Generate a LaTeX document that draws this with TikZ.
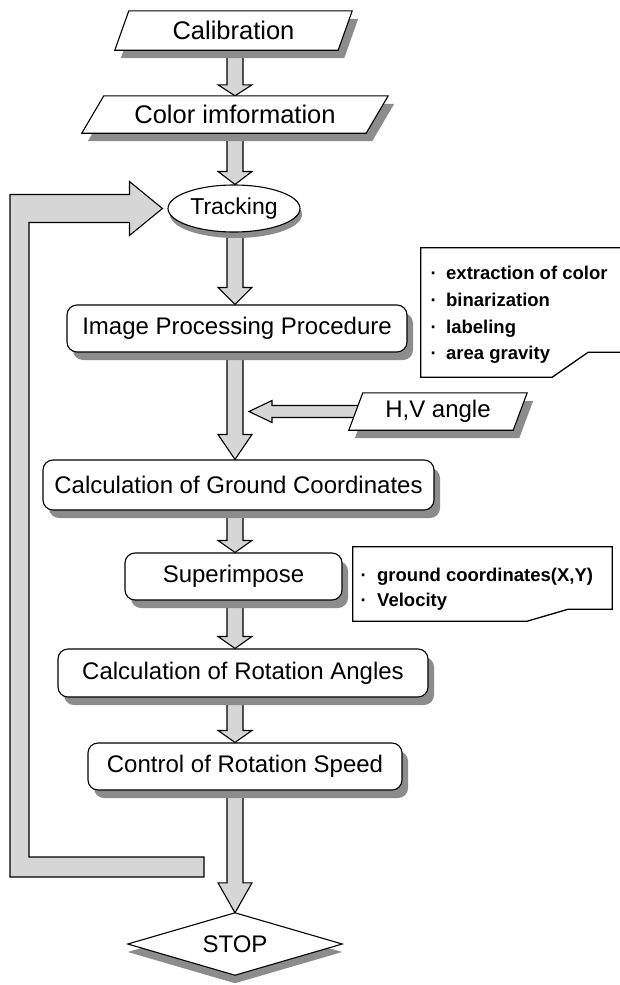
\documentclass[tikz,border=0pt]{standalone}
\usepackage{fontspec}
\setmainfont{Liberation Sans}
\usetikzlibrary{shadows,calc,shapes.geometric}
\pgfdeclarelayer{bg}
\pgfdeclarelayer{mid}
\pgfsetlayers{bg,mid,main}
\definecolor{shgray}{RGB}{140,140,140}
\definecolor{arrfill}{RGB}{214,214,214}
\tikzset{
  rbox/.style={draw=black, line width=1.1pt, fill=white, rounded corners=10pt, inner sep=0pt,
    font=\fontsize{24}{28}\selectfont,
    drop shadow={shadow xshift=6pt, shadow yshift=-8pt, fill=shgray, opacity=1}},
  holder/.style={inner sep=0pt, draw=none},
  pshape/.style={draw=black, line width=1.1pt, fill=white, line join=miter},
  pshadow/.style={fill=shgray, draw=none},
  barrow/.style={draw=black, line width=1.1pt, fill=arrfill, line join=miter},
  notebox/.style={draw=black, line width=1.3pt, fill=white, line join=miter},
  notetext/.style={anchor=base west, inner sep=0pt, font=\fontsize{18.5}{22}\bfseries\selectfont},
}
% parallelogram drawn from a holder node: #1 name, #2 slant
\newcommand{\paral}[2]{%
  \fill[pshadow] ([xshift=#2pt+6pt,yshift=-8pt]#1.north west) -- ([xshift=6pt,yshift=-8pt]#1.north east)
    -- ([xshift=-#2pt+6pt,yshift=-8pt]#1.south east) -- ([xshift=6pt,yshift=-8pt]#1.south west) -- cycle;
  \draw[pshape] ([xshift=#2pt]#1.north west) -- (#1.north east)
    -- ([xshift=-#2pt]#1.south east) -- (#1.south west) -- cycle;}
% vertical block arrow in the main column: #1 from, #2 to, #3 head length
\newcommand{\flowarrow}[3]{%
  \path[barrow] let \p1=(#1.center), \p2=(#2.north) in
    (235pt,\y2) -- (218pt,{\y2+#3pt}) -- (227pt,{\y2+#3pt}) -- (227pt,\y1)
    -- (243pt,\y1) -- (243pt,{\y2+#3pt}) -- (252pt,{\y2+#3pt}) -- cycle;}
\begin{document}
\begin{tikzpicture}[x=1pt,y=-1pt]
\useasboundingbox (0,0) rectangle (619,985);

% ---- nodes ----
\node[holder, minimum width=237pt, minimum height=39pt, font=\fontsize{25.5}{30}\selectfont] (cal) at (233.5,30.5) {Calibration};
\node[holder, minimum width=306pt, minimum height=37pt, font=\fontsize{25.5}{30}\selectfont] (col) at (235,114.5) {Color imformation};
\node[ellipse, draw=black, line width=1.1pt, fill=white, minimum width=132pt, minimum height=47pt, inner sep=0pt,
      font=\fontsize{23}{27}\selectfont,
      drop shadow={shadow xshift=2pt, shadow yshift=-6pt, fill=shgray, opacity=1}] (track) at (234,208.5) {Tracking};
\node[rbox, minimum width=340pt, minimum height=47pt] (ipp) at (237,328.5) {Image Processing Procedure};
\node[holder, minimum width=178pt, minimum height=37pt, font=\fontsize{24}{28}\selectfont] (hv) at (438,411.5) {H,V angle};
\node[rbox, minimum width=391pt, minimum height=50pt] (cgc) at (238.5,485) {Calculation of Ground Coordinates};
\node[rbox, minimum width=217pt, minimum height=47pt] (sup) at (233.5,576.5) {Superimpose};
\node[rbox, minimum width=370pt, minimum height=48pt] (cra) at (243,673) {Calculation of Rotation Angles};
\node[rbox, minimum width=314pt, minimum height=47pt] (crs) at (245,766.5) {Control of Rotation Speed};
\node[holder, minimum width=214pt, minimum height=62pt, font=\fontsize{24}{28}\selectfont] (stop) at (235,944) {STOP};

% note boxes (holders) and texts
\node[holder, minimum width=205pt, minimum height=129pt] (n1) at (523.5,312.5) {};
\node[notetext] (n1a) at (430.5,279.5) {\makebox[15.5pt][l]{·}extraction of color};
\node[notetext] (n1b) at (430.5,306.5) {\makebox[15.5pt][l]{·}binarization};
\node[notetext] (n1c) at (430.5,333) {\makebox[15.5pt][l]{·}labeling};
\node[notetext] (n1d) at (430.5,359) {\makebox[15.5pt][l]{·}area gravity};

\node[holder, minimum width=259pt, minimum height=74pt] (n2) at (482.5,584) {};
\node[notetext] (n2a) at (360.5,581.5) {\makebox[16.5pt][l]{·}ground coordinates(X,Y)};
\node[notetext] (n2b) at (360.5,606.5) {\makebox[16.5pt][l]{·}Velocity};

\coordinate (loopend) at (204,867);

% ---- shapes drawn from holder nodes ----
\begin{pgfonlayer}{mid}
  \paral{cal}{14}
  \paral{col}{22}
  \paral{hv}{14}
  \fill[pshadow] ([yshift=-8pt]stop.north) -- ([yshift=-8pt]stop.east) -- ([yshift=-8pt]stop.south) -- ([yshift=-8pt]stop.west) -- cycle;
  \draw[pshape] (stop.north) -- (stop.east) -- (stop.south) -- (stop.west) -- cycle;
  \draw[notebox] (n1.south west) -- (n1.north west) -- (n1.north east) -- ([yshift=25pt]n1.south east)
     -- ([xshift=-38pt,yshift=25pt]n1.south east) -- ([xshift=-74pt]n1.south east) -- cycle;
  \draw[notebox] (n2.south west) -- (n2.north west) -- (n2.north east) -- ([yshift=12pt]n2.south east)
     -- ([xshift=-44pt,yshift=12pt]n2.south east) -- ([xshift=-85pt]n2.south east) -- cycle;
\end{pgfonlayer}

% ---- block arrows ----
\begin{pgfonlayer}{bg}
  \fill[white] (0,0) rectangle (619,985);
  \flowarrow{cal}{col}{11}
  \flowarrow{col}{track}{13}
  \flowarrow{track}{ipp}{17}
  \flowarrow{ipp}{cgc}{25}
  \flowarrow{cgc}{sup}{12}
  \flowarrow{sup}{cra}{12}
  \flowarrow{cra}{crs}{12}
  \flowarrow{crs}{stop}{30}
  % H,V angle arrow
  \path[barrow] let \p1=(hv.west) in
    (249pt,\y1) -- (272pt,{\y1+11pt}) -- (272pt,{\y1+6pt}) -- ({\x1+12pt},{\y1+6pt})
    -- ({\x1+12pt},{\y1-6pt}) -- (272pt,{\y1-6pt}) -- (272pt,{\y1-11pt}) -- cycle;
  % loop back arrow
  \path[barrow] let \p1=(track.west), \p2=(loopend) in
    ({\x1-5pt},\y1) -- ({\x1-38pt},{\y1+27pt}) -- ({\x1-38pt},{\y1+14pt}) -- (10pt,{\y1+14pt})
    -- (10pt,{\y2-10pt}) -- (\x2,{\y2-10pt}) -- (\x2,{\y2+10pt}) -- (29pt,{\y2+10pt})
    -- (29pt,{\y1-14pt}) -- ({\x1-38pt},{\y1-14pt}) -- ({\x1-38pt},{\y1-27pt}) -- cycle;
\end{pgfonlayer}
\end{tikzpicture}
\end{document}
